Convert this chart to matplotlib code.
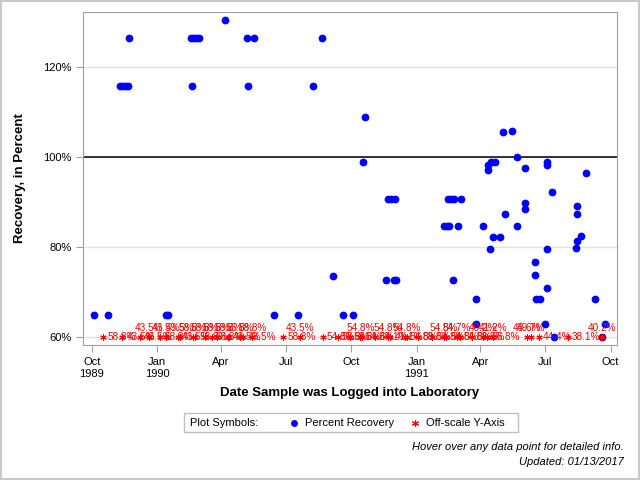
import matplotlib
matplotlib.use("Agg")
import matplotlib.pyplot as plt
import numpy as np
from matplotlib.lines import Line2D
from matplotlib.patches import Rectangle

plt.rcParams['font.family'] = ['Liberation Sans', 'DejaVu Sans']

# Puntos de recuperación (fecha, porcentaje)
fechas = ['1989-10-04', '1989-10-24', '1989-11-10', '1989-11-14', '1989-11-18', '1989-11-21',
          '1989-11-23', '1990-01-13', '1990-01-17', '1990-02-17', '1990-02-21', '1990-02-25',
          '1990-03-01', '1990-02-19', '1990-04-06', '1990-05-08', '1990-05-17', '1990-05-09',
          '1990-06-14', '1990-07-18', '1990-08-09', '1990-08-21', '1990-09-06', '1990-09-20',
          '1990-10-03', '1990-10-18', '1990-10-21', '1990-11-19', '1990-11-22', '1990-11-26',
          '1990-12-01', '1990-11-30', '1990-12-03', '1991-02-09', '1991-02-13', '1991-02-16',
          '1991-02-14', '1991-02-19', '1991-02-23', '1991-03-04', '1991-02-22', '1991-03-01',
          '1991-03-26', '1991-03-26', '1991-04-04', '1991-04-12', '1991-04-12', '1991-04-16',
          '1991-04-22', '1991-04-15', '1991-04-19', '1991-04-29', '1991-05-02', '1991-05-06',
          '1991-05-16', '1991-05-23', '1991-05-23', '1991-06-03', '1991-06-03', '1991-06-03',
          '1991-06-17', '1991-06-17', '1991-06-18', '1991-06-24', '1991-07-01', '1991-07-03',
          '1991-07-03', '1991-07-04', '1991-07-04', '1991-07-10', '1991-07-14', '1991-08-15',
          '1991-08-15', '1991-08-14', '1991-08-15', '1991-08-21', '1991-08-27', '1991-09-09',
          '1991-09-23', '1991-09-19']
recuperacion = [65.0, 65.0, 115.9, 115.9, 115.9, 115.9,
                126.4, 65.0, 65.0, 126.4, 126.4, 126.4,
                126.4, 115.9, 130.6, 126.4, 126.4, 115.9,
                65.0, 65.0, 115.9, 126.4, 73.5, 65.0,
                65.0, 99.0, 109.0, 72.6, 90.8, 90.8,
                90.8, 72.6, 72.6, 84.8, 84.8, 84.8,
                90.8, 90.8, 90.8, 90.8, 72.6, 84.8,
                68.4, 62.9, 84.8, 97.1, 98.2, 98.9,
                99.0, 79.5, 82.2, 82.2, 105.5, 87.3,
                105.9, 100.0, 84.8, 97.7, 89.7, 88.4,
                76.6, 73.9, 68.4, 68.4, 62.9, 99.0,
                98.2, 79.5, 71.0, 92.2, 60.0, 89.1,
                87.3, 79.9, 81.3, 82.4, 96.4, 68.4,
                62.9, 60.0]

# Puntos fuera de escala (se dibujan en 60 %)
fechas_fuera = ['1989-10-17', '1989-11-13', '1989-12-08', '1990-01-05', '1990-01-30', '1990-02-24',
                '1990-03-19', '1990-04-11', '1990-05-02', '1990-06-27', '1990-08-22', '1990-09-12',
                '1990-09-29', '1990-10-16', '1990-11-04', '1990-11-25', '1990-12-16', '1991-01-03',
                '1991-01-23', '1991-02-12', '1991-03-03', '1991-03-20', '1991-04-10', '1991-06-22',
                '1991-08-02',
                '1989-12-20', '1990-01-13', '1990-02-02', '1990-02-20', '1990-03-09', '1990-03-26',
                '1990-04-12', '1990-04-28', '1990-05-15', '1990-07-21', '1990-10-14', '1990-11-22',
                '1990-12-18', '1991-02-09', '1991-02-27', '1991-04-04', '1991-04-18', '1991-06-05',
                '1991-06-11', '1991-09-19']
valores_fuera = [58.8, 43.5, 43.5, 58.8, 43.5, 58.8,
                 58.8, 43.5, 43.5, 58.8, 54.8, 58.8,
                 58.8, 54.8, 64.1, 41.1, 54.8, 58.8,
                 54.8, 54.8, 54.8, 58.8, 56.8, 44.4,
                 38.1,
                 43.5, 43.5, 43.5, 58.8, 58.8, 58.8,
                 58.8, 55.8, 58.8, 43.5, 54.8, 54.8,
                 54.8, 54.8, 54.7, 40.2, 41.2, 45.6,
                 49.7, 40.2]
etiqueta_arriba = [False] * 25 + [True] * 20

ticks_x = ['1989-10-01', '1990-01-01', '1990-04-01', '1990-07-01', '1990-10-01',
           '1991-01-01', '1991-04-01', '1991-07-01', '1991-10-01']
etiquetas_x = ['Oct\n1989', 'Jan\n1990', 'Apr', 'Jul', 'Oct', 'Jan\n1991', 'Apr', 'Jul', 'Oct']
ticks_y = [60, 80, 100, 120]
etiquetas_y = ['60%', '80%', '100%', '120%']

x = np.array(fechas, dtype='datetime64[D]')
x_fuera = np.array(fechas_fuera, dtype='datetime64[D]')

fig = plt.figure(figsize=(6.4, 4.8), dpi=100)
fig.patch.set_edgecolor('#c8c8c8')
fig.patch.set_linewidth(1.5)
ax = fig.add_axes([0.130, 0.281, 0.834, 0.695])

ax.axhline(100, color='black', lw=1.1, zorder=2)
ax.plot(x, recuperacion, 'o', color='#0000ff', ms=5.6, mec='none', zorder=3)
ax.plot(x_fuera, np.full(len(x_fuera), 60.0), ls='none', marker=(6, 2, 0), color='red',
        ms=4.5, mew=0.8, zorder=4)
for xf, v, arriba in zip(x_fuera, valores_fuera, etiqueta_arriba):
    if arriba:
        ax.annotate(f'{v:.1f}%', (xf, 60), xytext=(0, 6.5), textcoords='offset points',
                    ha='center', va='center', color='red', fontsize=7.2, zorder=5)
    else:
        ax.annotate(f'{v:.1f}%', (xf, 60), xytext=(3, 0), textcoords='offset points',
                    ha='left', va='center', color='red', fontsize=7.2, zorder=5)

ax.set_xlim(np.datetime64('1989-09-19'), np.datetime64('1991-10-10'))
ax.set_ylim(58.2, 132.4)
ax.set_xticks(np.array(ticks_x, dtype='datetime64[D]'))
ax.set_xticklabels(etiquetas_x)
ax.set_yticks(ticks_y)
ax.set_yticklabels(etiquetas_y)
ax.grid(axis='y', color='#e2e2e2', lw=1, zorder=0)
ax.set_axisbelow(True)
for s in ax.spines.values():
    s.set_color('#a0a0a0')
ax.tick_params(colors='#a0a0a0', labelcolor='black', labelsize=8, length=5)

ax.set_xlabel('Date Sample was Logged into Laboratory', fontsize=9.5, fontweight='bold', labelpad=6)
ax.set_ylabel('Recovery, in Percent', fontsize=9.5, fontweight='bold', labelpad=12)

# Leyenda
fig.patches.append(Rectangle((184 / 640, 1 - 432 / 480), 334 / 640, 19 / 480,
                             transform=fig.transFigure, fill=False, edgecolor='#c0c0c0', lw=1))
yl = 1 - 422.5 / 480
fig.text(190 / 640, yl, 'Plot Symbols:', fontsize=8, va='center')
fig.lines.append(Line2D([294 / 640], [yl], transform=fig.transFigure, marker='o', color='#0000ff',
                        ms=5, mec='none', ls='none'))
fig.text(305 / 640, yl, 'Percent Recovery', fontsize=8, va='center')
fig.lines.append(Line2D([415 / 640], [yl], transform=fig.transFigure, marker=(6, 2, 0), color='red',
                        ms=5, mew=0.8, ls='none'))
fig.text(426 / 640, yl, 'Off-scale Y-Axis', fontsize=8, va='center')

fig.text(624 / 640, 1 - 446.5 / 480, 'Hover over any data point for detailed info.',
         fontsize=8, style='italic', ha='right', va='center')
fig.text(624 / 640, 1 - 462 / 480, 'Updated: 01/13/2017',
         fontsize=8, style='italic', ha='right', va='center')

fig.savefig('out.png', dpi=100, edgecolor=fig.get_edgecolor())
